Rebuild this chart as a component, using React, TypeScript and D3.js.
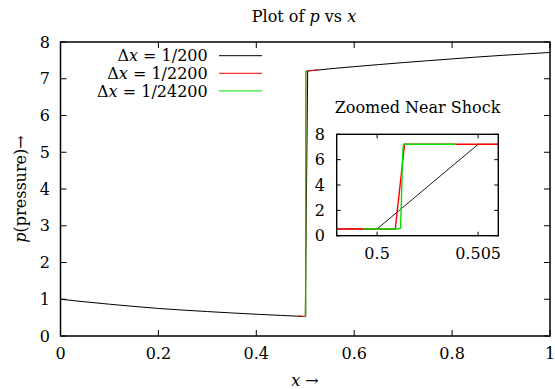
import React from "react";
import * as d3 from "d3";

// Pressure profiles for three grid spacings (x in [0,1])
const coarseX = [0, 0.05, 0.1, 0.15, 0.2, 0.25, 0.3, 0.35, 0.4, 0.45, 0.5, 0.505, 0.55, 0.6, 0.65, 0.7, 0.75, 0.8, 0.85, 0.9, 0.95, 1.0];
const coarseP = [1.0, 0.93, 0.865, 0.805, 0.75, 0.705, 0.665, 0.627, 0.593, 0.56, 0.53, 7.21, 7.27, 7.33, 7.385, 7.44, 7.49, 7.54, 7.59, 7.635, 7.675, 7.715];

const midX = [0.485, 0.49, 0.495, 0.498, 0.5, 0.5009, 0.50136, 0.502, 0.505, 0.51, 0.52, 0.526];
const midP = [0.545, 0.54, 0.535, 0.532, 0.53, 0.528, 7.21, 7.21, 7.215, 7.22, 7.235, 7.245];

const fineX = [0.4993, 0.5, 0.501, 0.50116, 0.5012, 0.50124, 0.50128, 0.50132, 0.502, 0.503, 0.5039];
const fineP = [0.53, 0.53, 0.528, 0.6, 2.6, 5.2, 6.9, 7.21, 7.21, 7.212, 7.213];

const seriesLabels = ["1/200", "1/2200", "1/24200"];
const seriesColors = ["#000000", "#ff0000", "#00e000"];

const xTicks = [0, 0.2, 0.4, 0.6, 0.8, 1];
const xTickLabels = ["0", "0.2", "0.4", "0.6", "0.8", "1"];
const yTicks = [0, 1, 2, 3, 4, 5, 6, 7, 8];

const insetXTicks = [0.5, 0.505];
const insetXTickLabels = ["0.5", "0.505"];
const insetYTicks = [0, 2, 4, 6, 8];

const W = 555;
const H = 389;
const FONT = '"DejaVu Serif", "Liberation Serif", "Times New Roman", serif';
const textStyle = { fontFamily: FONT };

type Pt = [number, number];
const zip = (xs: number[], ps: number[]): Pt[] => xs.map((x, i) => [x, ps[i]]);
const series: Pt[][] = [zip(coarseX, coarseP), zip(midX, midP), zip(fineX, fineP)];

export default function App() {
  const x = d3.scaleLinear().domain([0, 1]).range([60.5, 550]);
  const y = d3.scaleLinear().domain([0, 8]).range([336, 42]);

  const ix = d3.scaleLinear().domain([0.498, 0.506]).range([336.7, 498.3]);
  const iy = d3.scaleLinear().domain([0, 8]).range([235.7, 134.3]);

  const mainLine = d3.line<Pt>().x((d) => x(d[0])).y((d) => y(d[1]));
  const insetLine = d3.line<Pt>().x((d) => ix(d[0])).y((d) => iy(d[1]));

  const [x0, x1] = x.range();
  const [y0, y1] = y.range();
  const [ix0, ix1] = ix.range();
  const [iy0, iy1] = iy.range();

  const tick = 6;
  const itick = 4;

  return (
    <svg
      width={W}
      height={H}
      style={{ position: "absolute", left: 0, top: 0, background: "#fff", fontFamily: FONT }}
    >
      <defs>
        <clipPath id="mainClip">
          <rect x={x0} y={y1} width={x1 - x0} height={y0 - y1} />
        </clipPath>
        <clipPath id="insetClip">
          <rect x={ix0} y={iy1} width={ix1 - ix0} height={iy0 - iy1} />
        </clipPath>
      </defs>

      {/* Title */}
      <text x={304} y={21.5} fontSize={16} textAnchor="middle" style={textStyle}>
        Plot of <tspan fontStyle="italic">p</tspan> vs <tspan fontStyle="italic">x</tspan>
      </text>

      {/* Main ticks (all four sides, inward) */}
      <g stroke="#000" strokeWidth={1}>
        {xTicks.map((t) => (
          <g key={"xt" + t}>
            <line x1={x(t)} x2={x(t)} y1={y0} y2={y0 - tick} />
            <line x1={x(t)} x2={x(t)} y1={y1} y2={y1 + tick} />
          </g>
        ))}
        {yTicks.map((t) => (
          <g key={"yt" + t}>
            <line x1={x0} x2={x0 + tick} y1={y(t)} y2={y(t)} />
            <line x1={x1} x2={x1 - tick} y1={y(t)} y2={y(t)} />
          </g>
        ))}
      </g>

      {/* Main tick labels */}
      <g fontSize={16} style={textStyle}>
        {xTicks.map((t, i) => (
          <text key={"xl" + t} x={x(t)} y={359} textAnchor="middle">
            {xTickLabels[i]}
          </text>
        ))}
        {yTicks.map((t) => (
          <text key={"yl" + t} x={50} y={y(t) + 5.5} textAnchor="end">
            {t}
          </text>
        ))}
      </g>

      {/* Axis labels */}
      <text x={305} y={386} fontSize={16} textAnchor="middle" style={textStyle}>
        <tspan fontStyle="italic">x</tspan> →
      </text>
      <text
        transform={`translate(26,${(y0 + y1) / 2}) rotate(-90)`}
        fontSize={16}
        textAnchor="middle"
        style={textStyle}
      >
        <tspan fontStyle="italic">p</tspan>(pressure)→
      </text>

      {/* Main curves */}
      <g clipPath="url(#mainClip)" fill="none">
        {series.map((s, i) => (
          <path key={"m" + i} d={mainLine(s) ?? ""} stroke={seriesColors[i]} strokeWidth={1} />
        ))}
      </g>

      {/* Main frame */}
      <rect x={x0} y={y1} width={x1 - x0} height={y0 - y1} fill="none" stroke="#000" strokeWidth={1.5} />

      {/* Legend */}
      <g fontSize={16} style={textStyle}>
        {seriesLabels.map((lab, i) => {
          const ly = 55.7 + i * 17.6;
          return (
            <g key={"lg" + i}>
              <text x={207.7} y={ly + 5.6} textAnchor="end">
                Δ<tspan fontStyle="italic">x</tspan> = {lab}
              </text>
              <line x1={219} x2={262} y1={ly} y2={ly} stroke={seriesColors[i]} strokeWidth={1} />
            </g>
          );
        })}
      </g>

      {/* Inset: zoom near the shock */}
      <text x={417.5} y={113} fontSize={16} textAnchor="middle" style={textStyle}>
        Zoomed Near Shock
      </text>
      <rect x={ix0} y={iy1} width={ix1 - ix0} height={iy0 - iy1} fill="#fff" />
      <g clipPath="url(#insetClip)" fill="none">
        {series.map((s, i) => (
          <path
            key={"i" + i}
            d={insetLine(s) ?? ""}
            stroke={seriesColors[i]}
            strokeWidth={i === 0 ? 0.9 : 1.4}
          />
        ))}
      </g>
      <g stroke="#000" strokeWidth={1}>
        {insetXTicks.map((t) => (
          <g key={"ixt" + t}>
            <line x1={ix(t)} x2={ix(t)} y1={iy0} y2={iy0 - itick} />
            <line x1={ix(t)} x2={ix(t)} y1={iy1} y2={iy1 + itick} />
          </g>
        ))}
        {insetYTicks.map((t) => (
          <g key={"iyt" + t}>
            <line x1={ix0} x2={ix0 + itick} y1={iy(t)} y2={iy(t)} />
            <line x1={ix1} x2={ix1 - itick} y1={iy(t)} y2={iy(t)} />
          </g>
        ))}
      </g>
      <rect x={ix0} y={iy1} width={ix1 - ix0} height={iy0 - iy1} fill="none" stroke="#000" strokeWidth={1.4} />
      <g fontSize={16} style={textStyle}>
        {insetXTicks.map((t, i) => (
          <text key={"ixl" + t} x={ix(t)} y={259} textAnchor="middle">
            {insetXTickLabels[i]}
          </text>
        ))}
        {insetYTicks.map((t) => (
          <text key={"iyl" + t} x={325} y={iy(t) + 5.5} textAnchor="end">
            {t}
          </text>
        ))}
      </g>
    </svg>
  );
}
